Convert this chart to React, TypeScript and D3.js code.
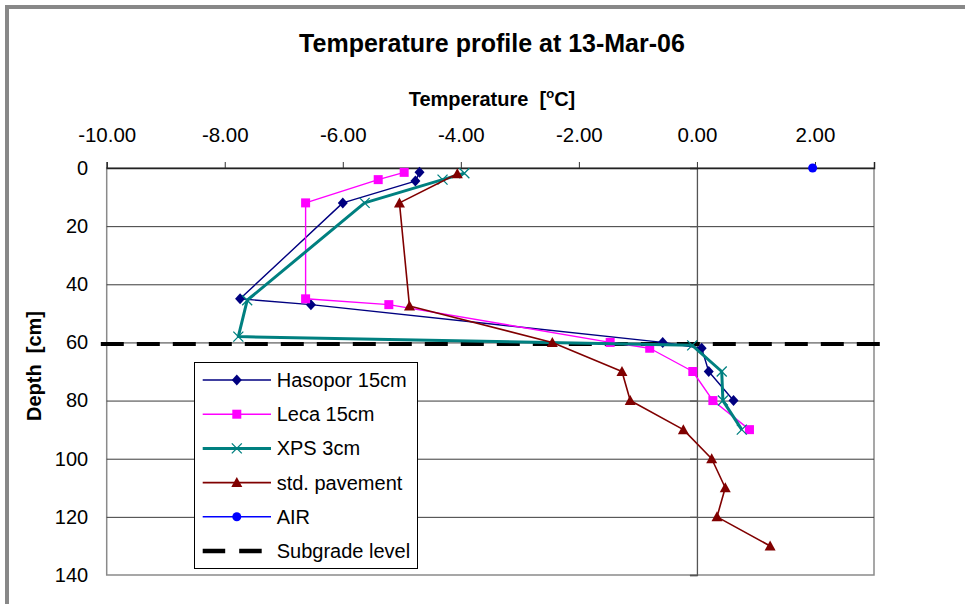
import React, { useEffect, useRef } from 'react';
import * as d3 from 'd3';

// readings taken off the original Excel chart
const hasoporTemp = [-4.7, -4.77, -6.0, -7.74, -6.54, -0.58, 0.08, 0.2, 0.62];
const hasoporDepth = [1.5, 4.5, 12, 45, 47, 60, 62, 70, 80];

const lecaTemp = [-4.96, -5.4, -6.63, -6.63, -5.22, -1.47, -0.8, -0.07, 0.27, 0.89];
const lecaDepth = [1.5, 4, 12, 45, 47, 60, 62, 70, 80, 90];

const xpsTemp = [-3.94, -4.31, -5.63, -7.62, -7.77, -0.08, 0.42, 0.44, 0.76];
const xpsDepth = [1.8, 4, 12, 45.5, 58, 61, 70, 80, 90];

const pavementTemp = [-4.06, -5.04, -4.87, -2.45, -1.27, -1.13, -0.23, 0.25, 0.48, 0.34, 1.24];
const pavementDepth = [2, 12, 47.5, 60, 70, 80, 90, 100, 110, 120, 130];

const airTemp = [1.96];
const airDepth = [0];

const subgradeTemp = [-10.1, 3.13];
const subgradeDepth = [60.5, 60.5];

const tempTicks = [-10, -8, -6, -4, -2, 0, 2];
const depthTicks = [0, 20, 40, 60, 80, 100, 120, 140];

const legendNames = ['Hasopor 15cm', 'Leca 15cm', 'XPS 3cm', 'std. pavement', 'AIR', 'Subgrade level'];

const FONT = '"Liberation Sans", Arial, sans-serif';

function drawMarker(g, kind, color, cx, cy) {
    if (kind === 'diamond') {
        g.append('path').attr('d', `M${cx},${cy - 5.5}L${cx + 5},${cy}L${cx},${cy + 5.5}L${cx - 5},${cy}Z`).attr('fill', color);
    } else if (kind === 'square') {
        g.append('rect').attr('x', cx - 4.5).attr('y', cy - 4.5).attr('width', 9).attr('height', 9).attr('fill', color);
    } else if (kind === 'x') {
        g.append('path').attr('d', `M${cx - 5},${cy - 5}L${cx + 5},${cy + 5}M${cx - 5},${cy + 5}L${cx + 5},${cy - 5}`)
            .attr('stroke', color).attr('stroke-width', 1.3);
    } else if (kind === 'triangle') {
        g.append('path').attr('d', `M${cx},${cy - 5.5}L${cx + 5.5},${cy + 4.5}L${cx - 5.5},${cy + 4.5}Z`).attr('fill', color);
    } else if (kind === 'circle') {
        g.append('circle').attr('cx', cx).attr('cy', cy).attr('r', 4.5).attr('fill', color);
    }
}

export default function App() {
    const ref = useRef(null);

    useEffect(() => {
        const svg = d3.select(ref.current);
        svg.selectAll('*').remove();

        const x = d3.scaleLinear().domain([-10, 3]).range([106.7, 874]);
        const y = d3.scaleLinear().domain([0, 140]).range([168, 575]);

        // outer frame (only top/left visible)
        svg.append('path').attr('d', 'M7,604V7H965')
            .attr('fill', 'none').attr('stroke', '#888').attr('stroke-width', 4);

        svg.append('text').attr('x', 492).attr('y', 52).attr('text-anchor', 'middle')
            .style('font', `bold 25px ${FONT}`).text('Temperature profile at 13-Mar-06');

        const tl = svg.append('text').attr('x', 492).attr('y', 106).attr('text-anchor', 'middle')
            .style('font', `bold 20px ${FONT}`).style('white-space', 'pre');
        tl.append('tspan').text('Temperature  [');
        tl.append('tspan').attr('dy', -8).style('font-size', '13px').text('o');
        tl.append('tspan').attr('dy', 8).text('C]');

        svg.append('text').attr('transform', 'translate(41,366) rotate(-90)').attr('text-anchor', 'middle')
            .style('font', `bold 20px ${FONT}`).style('white-space', 'pre').text('Depth  [cm]');

        // plot area border
        svg.append('rect').attr('x', x(-10)).attr('y', y(0)).attr('width', x(3) - x(-10)).attr('height', y(140) - y(0))
            .attr('fill', 'white').attr('stroke', '#8a8a8a').attr('stroke-width', 1.5);

        // gridlines
        const grid = svg.append('g').attr('transform', `translate(${x(-10)},0)`)
            .call(d3.axisLeft(y).tickValues(depthTicks.slice(1, -1)).tickSize(-(x(3) - x(-10))).tickFormat(''));
        grid.select('.domain').remove();
        grid.selectAll('line').attr('stroke', '#3a3a3a');

        // depth labels on left
        const yl = svg.append('g').attr('transform', `translate(${x(-10)},0)`)
            .call(d3.axisLeft(y).tickValues(depthTicks).tickSize(0).tickPadding(18.5));
        yl.select('.domain').remove();
        yl.selectAll('text').style('font', `20px ${FONT}`).attr('fill', 'black');

        // vertical axis at 0 degC
        const ya = svg.append('g').attr('transform', `translate(${x(0)},0)`)
            .call(d3.axisLeft(y).tickValues(depthTicks).tickSize(7).tickFormat(''));
        ya.selectAll('path,line').attr('stroke', '#555').attr('stroke-width', 1.3);

        // top temperature axis
        const xa = svg.append('g').attr('transform', `translate(0,${y(0)})`)
            .call(d3.axisTop(x).tickValues(tempTicks).tickSize(6).tickPadding(20.5).tickFormat(d => d.toFixed(2)));
        xa.select('.domain').attr('stroke', '#222').attr('stroke-width', 1.5);
        xa.selectAll('line').attr('stroke', '#333');
        xa.selectAll('text').style('font', `20.5px ${FONT}`).attr('fill', 'black');

        const series = [
            { t: hasoporTemp, d: hasoporDepth, color: '#000080', w: 1.4, m: 'diamond' },
            { t: lecaTemp, d: lecaDepth, color: '#ff00ff', w: 1.4, m: 'square' },
            { t: xpsTemp, d: xpsDepth, color: '#008080', w: 3, m: 'x' },
            { t: pavementTemp, d: pavementDepth, color: '#800000', w: 1.6, m: 'triangle' },
            { t: airTemp, d: airDepth, color: '#0000ff', w: 1.4, m: 'circle' },
        ];

        const line = d3.line().x(p => x(p[0])).y(p => y(p[1]));

        // subgrade level dashed line
        svg.append('path').datum(d3.zip(subgradeTemp, subgradeDepth)).attr('d', line)
            .attr('fill', 'none').attr('stroke', 'black').attr('stroke-width', 4).attr('stroke-dasharray', '23,13');

        series.forEach(s => {
            const pts = d3.zip(s.t, s.d);
            const g = svg.append('g');
            g.append('path').datum(pts).attr('d', line).attr('fill', 'none')
                .attr('stroke', s.color).attr('stroke-width', s.w).attr('stroke-linejoin', 'round');
            pts.forEach(p => drawMarker(g, s.m, s.color, x(p[0]), y(p[1])));
        });

        // legend
        const lg = svg.append('g');
        lg.append('rect').attr('x', 194.5).attr('y', 362.5).attr('width', 223).attr('height', 206)
            .attr('fill', 'white').attr('stroke', 'black').attr('stroke-width', 1);
        legendNames.forEach((name, i) => {
            const cy = 380 + i * 34.2;
            if (i < series.length) {
                const s = series[i];
                lg.append('line').attr('x1', 202.7).attr('x2', 271).attr('y1', cy).attr('y2', cy)
                    .attr('stroke', s.color).attr('stroke-width', s.w);
                drawMarker(lg, s.m, s.color, 236.8, cy);
            } else {
                lg.append('line').attr('x1', 202.7).attr('x2', 262).attr('y1', cy).attr('y2', cy)
                    .attr('stroke', 'black').attr('stroke-width', 4.5).attr('stroke-dasharray', '22.5,14');
            }
            lg.append('text').attr('x', 276.7).attr('y', cy).attr('dy', '0.35em')
                .style('font', `20px ${FONT}`).text(name);
        });
    }, []);

    return (
        <svg ref={ref} width={965} height={604} style={{ position: 'absolute', left: 0, top: 0, background: 'white' }} />
    );
}
